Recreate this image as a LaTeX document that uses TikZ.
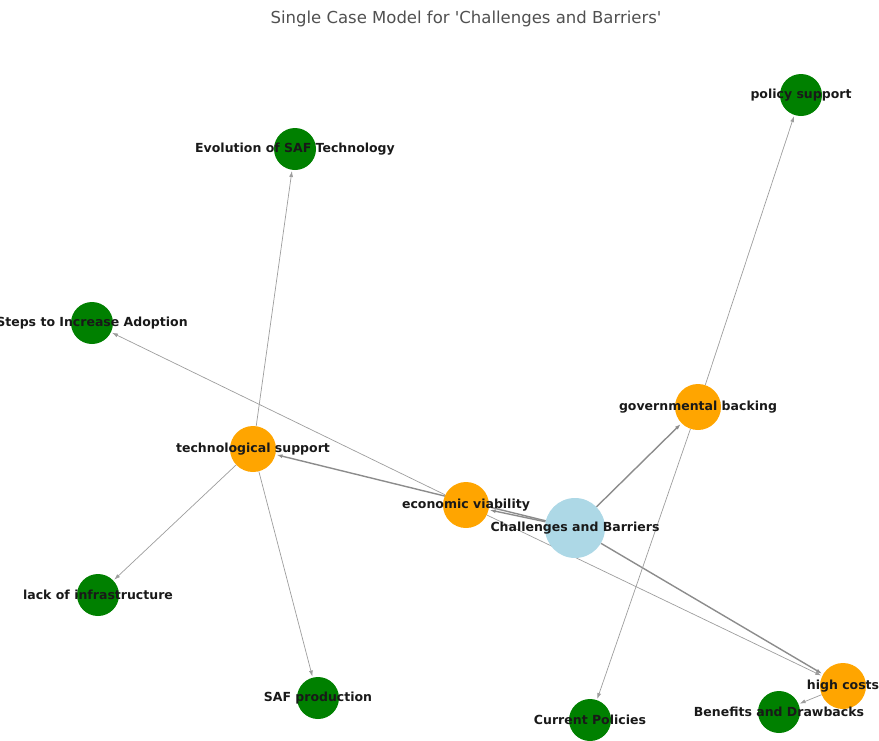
\documentclass[tikz,border=0pt]{standalone}
\usepackage{fontspec}
\setmainfont{DejaVu Sans}[Ligatures=TeXOff]
\usetikzlibrary{arrows.meta, backgrounds}
\definecolor{CoreBlue}{HTML}{ADD8E6}
\definecolor{BranchOrange}{HTML}{FFA500}
\definecolor{LeafGreen}{HTML}{008000}
\definecolor{EdgeGray}{HTML}{8C8C8C}
\definecolor{TitleGray}{HTML}{505050}

\begin{document}
\begin{tikzpicture}[
    x=1pt, y=-1pt,
    % Style for the central case node
    core/.style = {circle, fill=CoreBlue, minimum size=60pt, inner sep=0pt},
    % Style for the first ring of themes
    branch/.style = {circle, fill=BranchOrange, minimum size=46pt, inner sep=0pt},
    % Style for the outer codes
    leaf/.style = {circle, fill=LeafGreen, minimum size=42pt, inner sep=0pt},
    % Style for node texts
    lbl/.style = {font=\fontsize{12.5}{14}\selectfont\bfseries, text=black!90, inner sep=0pt},
    arr/.style = {-{Latex[length=6pt, width=4pt]}, color=EdgeGray!85, line width=0.7pt, shorten >=1pt},
    strong/.style = {arr, color=EdgeGray, line width=1.4pt},
]

% --- 1. CANVAS AND TITLE ---
\useasboundingbox (0,0) rectangle (879,740);
\clip (0,0) rectangle (879,740);
\node[font=\fontsize{16.5}{19}\selectfont, text=TitleGray] (title) at (466,19)
    {Single Case Model for 'Challenges and Barriers'};

% --- 2. DEFINE NODES ---
\node[core] (cb) at (575,528) {};

\node[branch] (econ) at (466,505) {};
\node[branch] (tech) at (253,449) {};
\node[branch] (gov)  at (698,407) {};
\node[branch] (cost) at (843,686) {};

\node[leaf] (evo)    at (295,149) {};
\node[leaf] (policy) at (801,95)  {};
\node[leaf] (steps)  at (92,323)  {};
\node[leaf] (infra)  at (98,595)  {};
\node[leaf] (prod)   at (318,698) {};
\node[leaf] (curr)   at (590,720) {};
\node[leaf] (bene)   at (779,712) {};

% --- 3. DRAW CONNECTORS ---
\begin{scope}[on background layer]
    \draw[strong] (cb) -- (econ);
    \draw[strong] (cb) -- (tech);
    \draw[strong] (cb) -- (gov);
    \draw[strong] (cb) -- (cost);

    \draw[arr] (tech) -- (evo);
    \draw[arr] (tech) -- (infra);
    \draw[arr] (tech) -- (prod);
    \draw[arr] (gov) -- (policy);
    \draw[arr] (gov) -- (curr);
    \draw[arr] (econ) -- (steps);
    \draw[arr] (econ) -- (cost);
    \draw[arr] (cost) -- (bene);
\end{scope}

% --- 4. LABELS ON TOP ---
\foreach \n/\t in {cb/Challenges and Barriers, econ/economic viability,
    tech/technological support, gov/governmental backing, cost/high costs,
    evo/Evolution of SAF Technology, policy/policy support,
    steps/Steps to Increase Adoption, infra/lack of infrastructure,
    prod/SAF production, curr/Current Policies, bene/Benefits and Drawbacks}
    \node[lbl] (\n-txt) at (\n) {\t};

\end{tikzpicture}
\end{document}
